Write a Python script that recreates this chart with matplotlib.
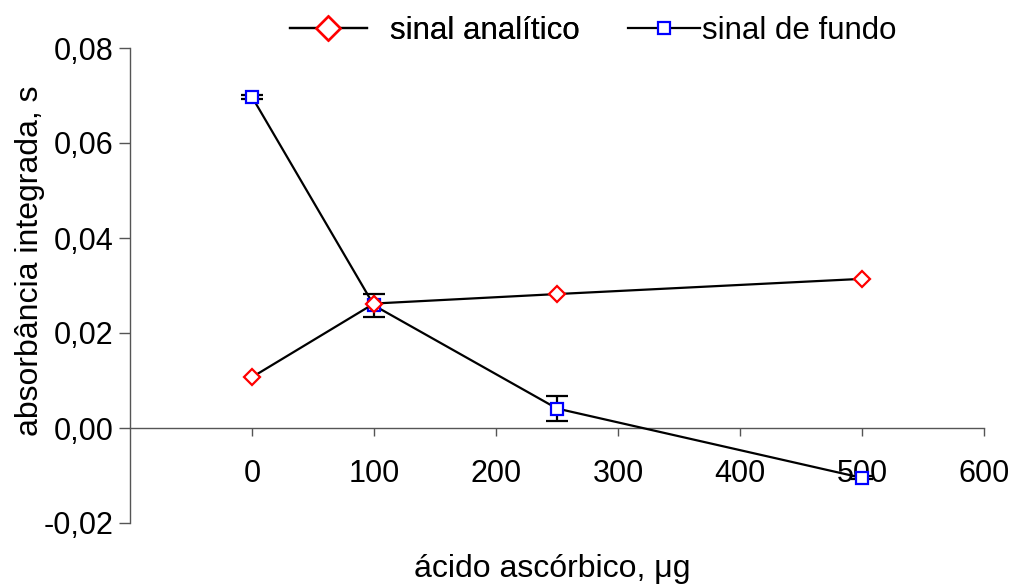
import matplotlib
matplotlib.use("Agg")
import matplotlib.pyplot as plt
from matplotlib.ticker import FuncFormatter
from matplotlib.lines import Line2D

plt.rcParams['font.family'] = ['Liberation Sans', 'DejaVu Sans']

# ascorbic acid mass (µg)
acido = [0, 100, 250, 500]
# integrated absorbance
sinal_analitico = [0.0107, 0.0262, 0.0282, 0.0314]
sinal_fundo = [0.0697, 0.0258, 0.0041, -0.0105]
erro_fundo = [0.0004, 0.0024, 0.0026, 0.0003]

x_ticks = [0, 100, 200, 300, 400, 500, 600]
y_ticks = [-0.02, 0.0, 0.02, 0.04, 0.06, 0.08]

fig = plt.figure(figsize=(10.18, 5.88), dpi=100)
ax = fig.add_axes([130 / 1018, 65 / 588, 854 / 1018, 475 / 588])

fs = 22

ax.errorbar(acido, sinal_fundo, yerr=erro_fundo, color='black', lw=1.6,
            ecolor='black', elinewidth=1.6, capsize=8, capthick=1.6,
            marker='s', markersize=9, markerfacecolor='white',
            markeredgecolor='blue', markeredgewidth=1.6, zorder=3)
ax.plot(acido, sinal_analitico, color='black', lw=1.6,
        marker='D', markersize=8.5, markerfacecolor='white',
        markeredgecolor='red', markeredgewidth=1.6, zorder=4)

ax.set_xlim(-100, 600)
ax.set_ylim(-0.02, 0.08)
ax.set_xticks(x_ticks)
ax.set_yticks(y_ticks)
ax.yaxis.set_major_formatter(FuncFormatter(lambda v, p: f"{v:.2f}".replace('.', ',').replace('-0,00', '0,00')))

for side in ['top', 'right']:
    ax.spines[side].set_visible(False)
ax.spines['bottom'].set_position(('data', 0))
for side in ['left', 'bottom']:
    ax.spines[side].set_color('#555555')
    ax.spines[side].set_linewidth(1.0)

ax.tick_params(axis='x', direction='out', length=6, width=1, color='#555555',
               labelsize=fs, pad=16)
ax.tick_params(axis='y', direction='out', length=8, width=1, color='#555555',
               labelsize=fs, pad=4)

fig.text(30 / 1018, 1 - 261 / 588, 'absorbância integrada, s', fontsize=23,
         rotation=90, ha='center', va='center')
fig.text(552 / 1018, 1 - 569 / 588, 'ácido ascórbico, μg', fontsize=23,
         ha='center', va='center')

h1 = Line2D([], [], color='black', lw=1.6, marker='D', markersize=12,
            markerfacecolor='white', markeredgecolor='red', markeredgewidth=1.8)
h2 = Line2D([], [], color='black', lw=1.6, marker='s', markersize=9,
            markerfacecolor='white', markeredgecolor='blue', markeredgewidth=1.6)
leg1 = fig.legend([h1], ['sinal analítico'], loc='center left',
                  bbox_to_anchor=(290 / 1018, 1 - 31 / 588), frameon=False,
                  fontsize=22.5, handlelength=2.45, handletextpad=0.75,
                  borderaxespad=0, borderpad=0)
leg2 = fig.legend([h2], ['sinal de fundo'], loc='center left',
                  bbox_to_anchor=(628 / 1018, 1 - 31 / 588), frameon=False,
                  fontsize=22.5, handlelength=2.3, handletextpad=0.08,
                  borderaxespad=0, borderpad=0)
fig.add_artist(leg1)

fig.savefig('out.png', dpi=100)
